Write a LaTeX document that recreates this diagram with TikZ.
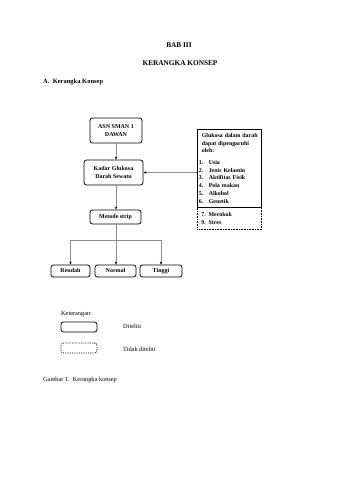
\documentclass[tikz,border=0pt]{standalone}
\usepackage{fontspec}
\setmainfont{Liberation Serif}
\usetikzlibrary{arrows.meta}
\begin{document}
\begin{tikzpicture}[x=1pt,y=-1pt,
  box/.style={draw, line width=0.8pt, rounded corners=2.5pt, align=center,
    font=\bfseries\fontsize{6}{8}\selectfont, inner sep=1pt},
  onebox/.style={box, text height=4.2pt, text depth=1.3pt},
  dotbox/.style={box, densely dotted},
  conn/.style={draw=black!45, line width=0.6pt},
  arr/.style={conn, -{Stealth[length=3pt,width=2.4pt,color=black]}},
  lbl/.style={anchor=west, inner sep=0pt, font=\fontsize{6.3}{8}\selectfont},
  ttl/.style={inner sep=0pt, font=\bfseries\fontsize{7.3}{9}\selectfont},
  infobox/.style={draw, line width=0.6pt, anchor=north west, align=left,
    text width=61pt, inner xsep=1.5pt, inner ysep=0pt,
    font=\bfseries\fontsize{5.9}{7.8}\selectfont}]
\useasboundingbox (0,0) rectangle (339,480);

% titles
\node[ttl] (bab) at (179,45) {BAB III};
\node[ttl] (judul) at (180,63) {KERANGKA KONSEP};
\node[lbl, font=\bfseries\fontsize{6.5}{8}\selectfont] (sub) at (43,82) {A.\ \ Kerangka Konsep};

% main boxes
\node[box, minimum width=52pt, minimum height=25pt] (asn) at (116,130.5) {ASN SMAN 1\\DAWAN};
\node[box, minimum width=59pt, minimum height=25pt] (kadar) at (113.5,172.5) {Kadar Glukosa\\Darah Sewatu};
\node[onebox, minimum width=51pt, minimum height=14pt] (metodo) at (115.5,217) {Metode strip};
\node[onebox, minimum width=39pt, minimum height=12pt] (rendah) at (70.5,271) {Rendah};
\node[onebox, minimum width=41pt, minimum height=12pt] (normal) at (115.5,271) {Normal};
\node[onebox, minimum width=42pt, minimum height=12pt] (tinggi) at (161,271) {Tinggi};

% factor box
\node[infobox, minimum height=78pt] (faktor) at (197,129) {%
\hspace*{3pt}Glukosa dalam darah\\
\hspace*{3pt}dapat dipengaruhi\\
\hspace*{3pt}oleh:\\[3.5pt]
\makebox[10pt][l]{1.}Usia\\
\makebox[10pt][l]{2.}Jenis Kelamin\\
\makebox[10pt][l]{3.}Aktifitas Fisik\\
\makebox[10pt][l]{4.}Pola makan\\
\makebox[10pt][l]{5.}Alkohol\\
\makebox[10pt][l]{6.}Genetik};
\node[infobox, densely dotted, minimum height=22pt, inner xsep=4pt, text width=56pt] (lain) at (197,207) {%
7. Merokok\\
9. Stres};
\draw[line width=0.6pt] (faktor.south west) -- (faktor.south east);

% connectors
\coordinate (hl) at (0,240);
\draw[arr] (asn.south -| 116,0) -- (kadar.north -| 116,0);
\draw[arr] (kadar.south -| 116,0) -- (metodo.north -| 116,0);
\draw[arr] (kadar.east -| faktor.west) -- (kadar.east);
\draw[conn] (metodo.south -| 116,0) -- (116,240) coordinate (j);
\draw[arr] (j) -| (rendah.north);
\draw[arr] (j) -| (tinggi.north);
\draw[arr] (j) -- (j |- normal.north);

% legend
\node[lbl] (ket) at (61,314) {Keterangan:};
\node[box, minimum width=36pt, minimum height=10pt] (lsolid) at (79,327) {};
\node[dotbox, minimum width=36pt, minimum height=10pt] (ldot) at (79,348) {};
\node[lbl] (dit) at (123,326) {Diteliti};
\node[lbl] (tdit) at (123,349) {Tidak diteliti};
\node[lbl] (cap) at (43,380) {Gambar 1.\ \ Kerangka konsep};
\end{tikzpicture}
\end{document}
